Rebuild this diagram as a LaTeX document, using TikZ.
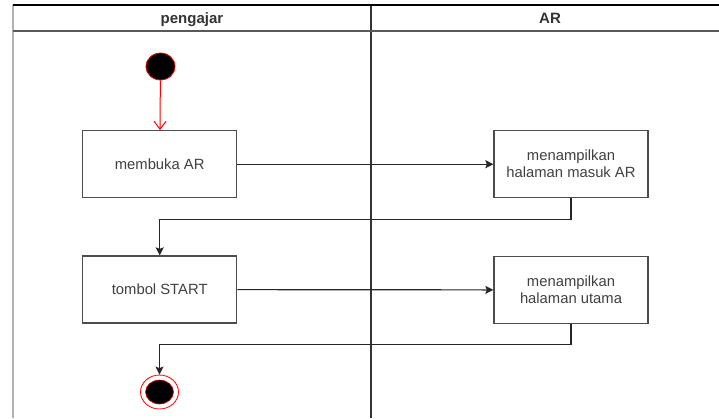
\documentclass[tikz,border=0pt]{standalone}
\usepackage{fontspec}
\setmainfont{Liberation Sans}
\usetikzlibrary{arrows.meta,shapes.geometric}

\begin{document}
\begin{tikzpicture}[x=1pt,y=-1pt,
  act/.style={draw=black!70, line width=1.3pt, rectangle, fill=white,
    minimum width=154pt, minimum height=67pt, align=center, inner sep=0pt,
    font=\fontsize{14.8}{17}\selectfont, text=black!75},
  flow/.style={draw=black!85, line width=1.2pt,
    -{Stealth[length=8pt,width=8pt,inset=1.5pt]}},
  head/.style={font=\bfseries\fontsize{15}{17}\selectfont, text=black!80,
    inner sep=0pt, anchor=base},
  startdot/.style={ellipse, draw=red, line width=0.8pt, fill=black,
    minimum width=29pt, minimum height=27pt, inner sep=0pt},
  endring/.style={ellipse, draw=red, line width=0.8pt, fill=white,
    minimum width=38pt, minimum height=34pt, inner sep=0pt},
  enddot/.style={ellipse, draw=red, line width=0.6pt, fill=black,
    minimum width=28pt, minimum height=24pt, inner sep=0pt}
]
\useasboundingbox (0,0) rectangle (719,418);

% swimlane frame
\coordinate (tl) at (12.5,5);
\coordinate (tr) at (719,5);
\coordinate (hl) at (12.5,31);
\coordinate (hr) at (719,31);
\coordinate (bl) at (12.5,418);
\coordinate (mt) at (371,5);
\coordinate (mb) at (371,418);
\draw[gray!60, line width=2pt] (tl) -- (bl);
\draw[black!80, line width=2pt] (mt) -- (mb);
\draw[black, line width=1.4pt] (tl) -- (tr);
\draw[black!65, line width=1.4pt] (hl) -- (hr);

% lane headers
\node[head] (lane1) at (192,23.3) {pengajar};
\node[head] (lane2) at (550,23.3) {AR};

% activities
\node[startdot] (start) at (160.5,66.5) {};
\node[act] (buka) at (159.7,164.2) {membuka AR};
\node[act] (masuk) at (571,164.2) {menampilkan\\halaman masuk AR};
\node[act] (tombol) at (159.7,289.5) {tombol START};
\node[act] (utama) at (571,290) {menampilkan\\halaman utama};
\node[endring] (stop) at (159.5,392) {};
\node[enddot] (stopdot) at (stop.center) {};

% control flow
\draw[red, line width=1pt, -{Straight Barb[length=8pt,width=12pt]}]
  (start) -- (buka);
\draw[flow] (buka) -- (masuk);
\draw[flow] (masuk.south) -- ++(0,21) -| (tombol.north);
\draw[flow] (tombol) -- (utama);
\draw[flow] (utama.south) -- ++(0,20) -| (stop.north);
\end{tikzpicture}
\end{document}
